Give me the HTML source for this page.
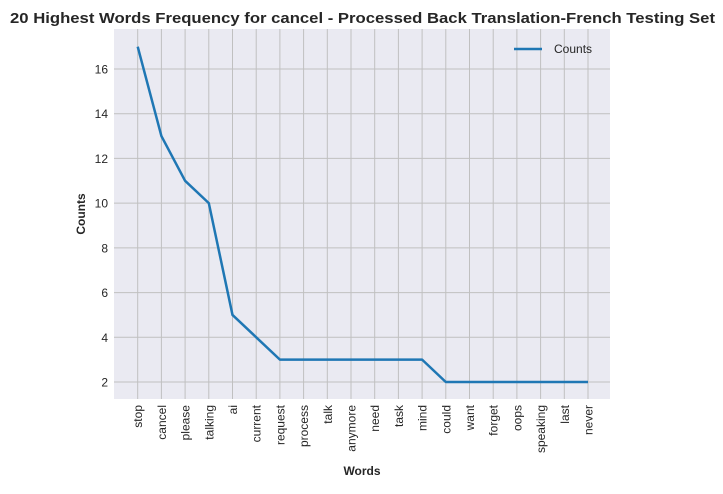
<!DOCTYPE html>
<html><head><meta charset="utf-8"><style>
body{margin:0;background:#fff;}
svg text{font-family:"Liberation Sans",Arial,sans-serif;}
</style></head><body>
<svg id="c" width="723" height="489"></svg>
<script>
const categories=["stop","cancel","please","talking","ai","current","request","process","talk","anymore","need","task","mind","could","want","forget","oops","speaking","last","never"];
const counts=[17,13,11,10,5,4,3,3,3,3,3,3,3,2,2,2,2,2,2,2];
const yTicks=[2,4,6,8,10,12,14,16];
const NS="http://www.w3.org/2000/svg";
const svg=document.getElementById('c');
const L=114,R=610,T=29,B=399;
const x0=137.7,x1=588;
function xs(i){return x0+i*(x1-x0)/(categories.length-1);}
function ys(v){return 382-(v-2)*(382-69)/14;}
function mk(t,a,txt){const e=document.createElementNS(NS,t);for(const k in a)e.setAttribute(k,a[k]);if(txt!==undefined)e.textContent=txt;svg.appendChild(e);return e;}
let bg=mk('rect',{x:L,y:T,width:R-L,height:B-T,fill:'#eaeaf2'});


yTicks.forEach(v=>{
 let g=mk('line',{x1:L,x2:R,y1:ys(v),y2:ys(v),stroke:'#c0c0c0','stroke-width':1});
 
 
 let t=mk('text',{x:L-6,y:ys(v)+4.5,'text-anchor':'end','font-size':12,fill:'#262626'},String(v));
 
 
});
categories.forEach((c,i)=>{
 let g=mk('line',{x1:xs(i),x2:xs(i),y1:T,y2:B,stroke:'#c0c0c0','stroke-width':1});
 
 
 let t=mk('text',{x:0,y:0,'text-anchor':'end','font-size':12,fill:'#262626',transform:`translate(${xs(i)+4.5},${B+6}) rotate(-90)`},c);
 
 
});
let p=mk('polyline',{points:counts.map((v,i)=>xs(i)+','+ys(v)).join(' '),fill:'none',stroke:'#1f77b4','stroke-width':2.5,'stroke-linejoin':'round'});


let ll=mk('line',{x1:514,x2:542,y1:49,y2:49,stroke:'#1f77b4','stroke-width':2.5});


let lt=mk('text',{x:554,y:53,'font-size':12,fill:'#262626'},'Counts');


let ti=mk('text',{x:10,y:23,'font-size':15,'font-weight':'bold',fill:'#262626',textLength:705,lengthAdjust:'spacingAndGlyphs'},'20 Highest Words Frequency for cancel - Processed Back Translation-French Testing Set');


let xt=mk('text',{x:362,y:475,'text-anchor':'middle','font-size':12,'font-weight':'bold',fill:'#262626'},'Words');


let yt=mk('text',{x:0,y:0,'text-anchor':'middle','font-size':12,'font-weight':'bold',fill:'#262626',transform:'translate(85,214) rotate(-90)'},'Counts');


</script>
</body></html>
